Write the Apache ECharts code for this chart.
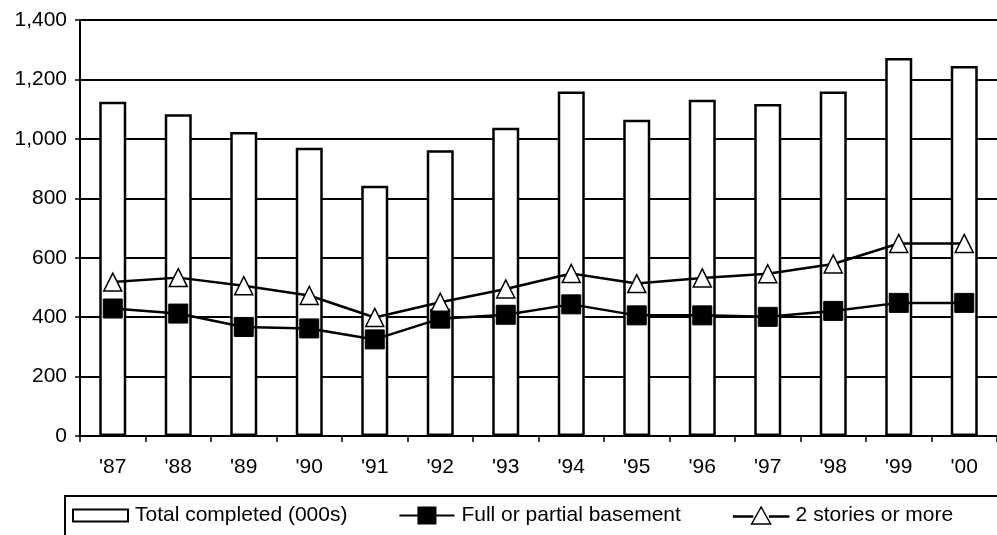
<!DOCTYPE html>
<html>
<head>
<meta charset="utf-8">
<script src="https://cdn.jsdelivr.net/npm/echarts@6/dist/echarts.min.js"></script>
<style>
html,body{margin:0;padding:0;background:#fff;}
#chart{width:997px;height:535px;}
</style>
</head>
<body>
<div id="chart"></div>
<script>
const categories = ["'87","'88","'89","'90","'91","'92","'93","'94","'95","'96","'97","'98","'99","'00"];
const totalCompleted = [1125,1083,1023,970,842,962,1037,1159,1064,1132,1117,1159,1272,1245];
const basement = [429,412,367,362,325,395,408,443,406,406,401,421,448,448];
const twoStories = [518,533,506,473,399,450,495,547,513,532,546,579,648,648];
const yTicks = [0,200,400,600,800,1000,1200,1400];
const seriesNames = ['Total completed (000s)','Full or partial basement','2 stories or more'];

const font = '"Liberation Sans", Arial, sans-serif';
const chart = echarts.init(document.getElementById('chart'), null, {renderer:'canvas'});
chart.setOption({
  animation:false,
  backgroundColor:'#fff',
  textStyle:{fontFamily:font,color:'#000'},
  grid:{left:80,top:20,right:-7,bottom:99,containLabel:false},
  xAxis:{
    type:'category',
    data:categories,
    boundaryGap:true,
    axisLine:{lineStyle:{color:'#000',width:2}},
    axisTick:{show:true,inside:false,length:6,lineStyle:{color:'#000',width:1.5},alignWithLabel:false,interval:0},
    axisLabel:{color:'#000',fontSize:21,fontFamily:font,margin:21,interval:0}
  },
  yAxis:{
    type:'value',
    min:yTicks[0],
    max:yTicks[yTicks.length-1],
    interval:yTicks[1]-yTicks[0],
    axisLine:{show:true,lineStyle:{color:'#000',width:2}},
    axisTick:{show:true,inside:false,length:5,lineStyle:{color:'#000',width:1.5}},
    axisLabel:{color:'#000',fontSize:21,fontFamily:font,margin:13,
      formatter:v=>v.toLocaleString('en-US')},
    splitLine:{show:true,lineStyle:{color:'#000',width:2}}
  },
  legend:{
    left:72,
    top:505,
    padding:0,
    itemGap:52,
    itemWidth:55,
    itemHeight:18,
    textStyle:{fontSize:21,fontFamily:font,color:'#000',padding:[0,0,0,2]},
    data:[
      {name:seriesNames[0],icon:'path://M0,0 M0,3 L55,3 L55,15 L0,15 Z M55,18',
        itemStyle:{color:'#fff',borderColor:'#000',borderWidth:2}},
      {name:seriesNames[1],icon:'path://M0,8 L55,8 L55,10 L0,10 Z M18,0 L37,0 L37,18 L18,18 Z',
        itemStyle:{color:'#000',borderColor:'#000',borderWidth:0}},
      {name:seriesNames[2],icon:'path://M0,9.5 L19,9.5 L19,10.5 L0,10.5 Z M36,9.5 L55,9.5 L55,10.5 L36,10.5 Z M27.5,0.5 L37,17.5 L18,17.5 Z',
        itemStyle:{color:'#fff',borderColor:'#000',borderWidth:1.5}}
    ]
  },
  graphic:[{
    type:'polyline',
    shape:{points:[[1001,496],[65,496],[65,540]]},
    style:{stroke:'#000',lineWidth:2,fill:null},
    silent:true
  }],
  series:[
    {
      name:seriesNames[0],
      type:'bar',
      data:totalCompleted,
      barWidth:27,
      itemStyle:{color:'#fff',borderColor:'#000',borderWidth:2.5},
      z:2
    },
    {
      name:seriesNames[1],
      type:'line',
      data:basement,
      symbol:'rect',
      symbolSize:19,
      lineStyle:{color:'#000',width:2.5},
      itemStyle:{color:'#000',borderColor:'#000',borderWidth:1},
      z:3
    },
    {
      name:seriesNames[2],
      type:'line',
      data:twoStories,
      symbol:'triangle',
      symbolSize:[18,18],
      lineStyle:{color:'#000',width:2.5},
      itemStyle:{color:'#fff',borderColor:'#000',borderWidth:1.5},
      z:4
    }
  ]
});
</script>
</body>
</html>
